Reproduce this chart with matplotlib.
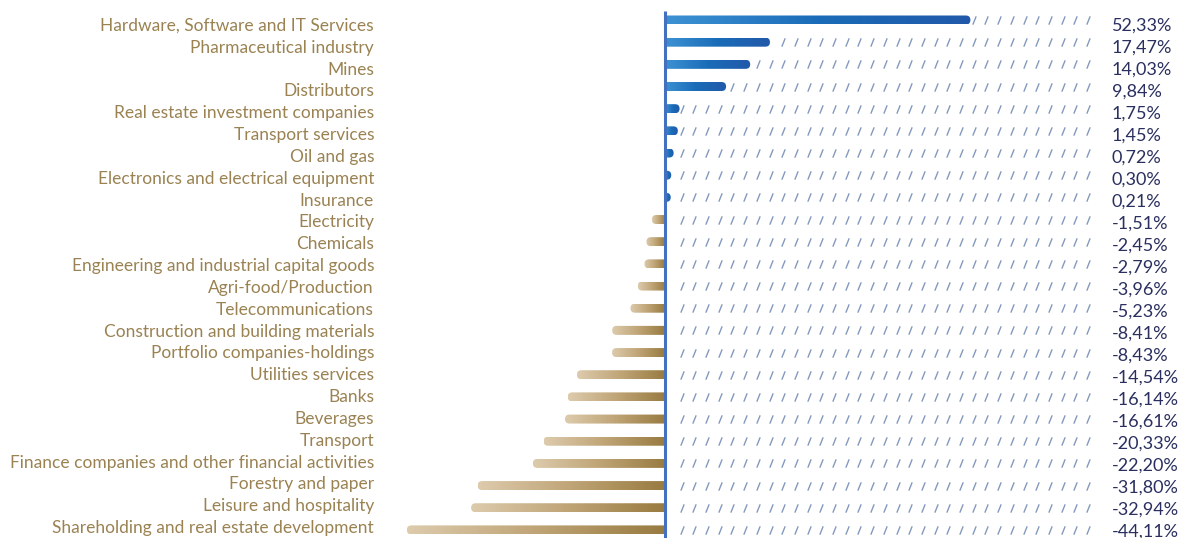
import numpy as np
import matplotlib.pyplot as plt
from matplotlib.patches import FancyBboxPatch
from matplotlib.path import Path
from matplotlib.colors import LinearSegmentedColormap

sectors = [
    "Hardware, Software and IT Services",
    "Pharmaceutical industry",
    "Mines",
    "Distributors",
    "Real estate investment companies",
    "Transport services",
    "Oil and gas",
    "Electronics and electrical equipment",
    "Insurance",
    "Electricity",
    "Chemicals",
    "Engineering and industrial capital goods",
    "Agri-food/Production",
    "Telecommunications",
    "Construction and building materials",
    "Portfolio companies-holdings",
    "Utilities services",
    "Banks",
    "Beverages",
    "Transport",
    "Finance companies and other financial activities",
    "Forestry and paper",
    "Leisure and hospitality",
    "Shareholding and real estate development",
]
perf = [52.33, 17.47, 14.03, 9.84, 1.75, 1.45, 0.72, 0.30, 0.21,
        -1.51, -2.45, -2.79, -3.96, -5.23, -8.41, -8.43, -14.54, -16.14,
        -16.61, -20.33, -22.20, -31.80, -32.94, -44.11]

W, H = 1180, 538
PX = 5.75          # pixels per percentage point
X0 = 665           # pixel position of the zero line
ROW = 22.17        # pixels between rows
Y0 = 20            # pixel position of the first bar

gold_text = "#9a8252"
navy = "#2a2f5f"
blue_cmap = LinearSegmentedColormap.from_list("b", ["#3d92d3", "#1a6cb8", "#2159a9"])
gold_cmap = LinearSegmentedColormap.from_list("g", ["#ddcbad", "#bfa476", "#987b40"])

fig = plt.figure(figsize=(W / 100, H / 100), dpi=100)
ax = fig.add_axes([0, 0, 1, 1])
ax.set_axis_off()

xlim = (-X0 / PX, (W - X0) / PX)
ylim = ((H - Y0) / ROW, -Y0 / ROW)

bar_h = 9 / ROW
cap = 4.5 / PX
grad = np.linspace(0, 1, 256).reshape(1, -1)

slash = Path([(-0.2, -0.5), (0.2, 0.5)], [Path.MOVETO, Path.LINETO])
hatch_end = (1088 - X0) / PX
hatch_step = 12.7 / PX
hatch_x = hatch_end - hatch_step * np.arange(0, 40)

for i, (name, v) in enumerate(zip(sectors, perf)):
    if v >= 0:
        x_lo, x_hi = 0, v + cap
        box = (-cap, v + 2 * cap)
        cmap = blue_cmap
    else:
        x_lo, x_hi = v - cap, 0
        box = (v - cap, -v + 2 * cap)
        cmap = gold_cmap
    patch = FancyBboxPatch((box[0], i - bar_h / 2), box[1], bar_h,
                           boxstyle=f"round,pad=0,rounding_size={cap}",
                           mutation_aspect=PX / ROW,
                           facecolor="none", edgecolor="none")
    ax.add_patch(patch)
    im = ax.imshow(grad, extent=[x_lo, x_hi, i + bar_h / 2, i - bar_h / 2],
                   cmap=cmap, aspect="auto", interpolation="bilinear", zorder=2)
    im.set_clip_path(patch)

    # dashed guide from the bar end to the value column
    start = max(v, 0) + cap + 2 / PX
    hx = hatch_x[hatch_x > start]
    ax.plot(hx, np.full(len(hx), i), linestyle="none", marker=slash,
            markersize=6, markeredgewidth=1.0, markeredgecolor="#8499bd", zorder=1)

    ax.text((374 - X0) / PX, (26 + 21.83 * i - Y0) / ROW, name, ha="right",
            va="center", fontsize=12.5, color=gold_text, family="Lato")
    ax.text((1112 - X0) / PX, (26 + 22.0 * i - Y0) / ROW,
            f"{v:.2f}".replace(".", ",") + "%", ha="left", va="center",
            fontsize=13, color=navy, family="Lato")

ax.plot([0, 0], [(11 - Y0) / ROW, ylim[0] + 1], color="#4470c0", lw=2.2,
        solid_capstyle="butt", zorder=3)

ax.set_xlim(*xlim)
ax.set_ylim(*ylim)
fig.savefig("out.png", dpi=100)
